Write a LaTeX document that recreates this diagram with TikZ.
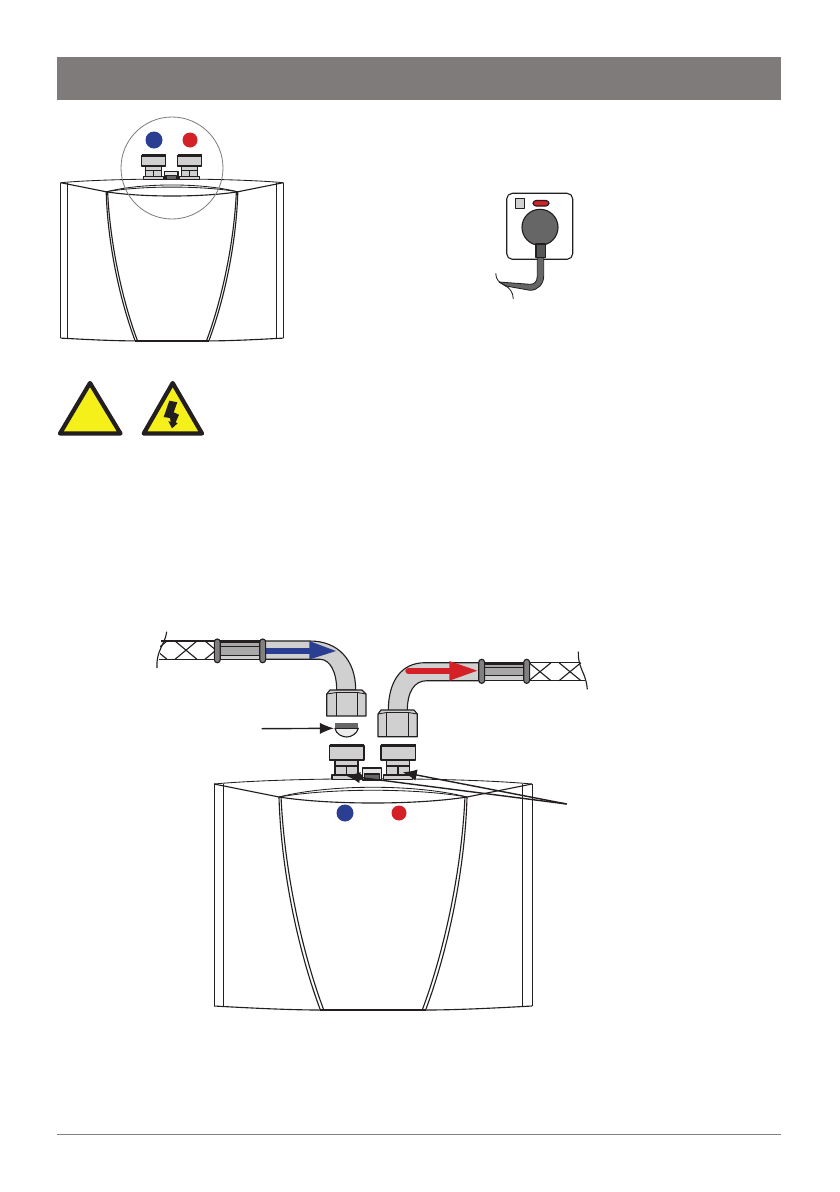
\documentclass[tikz,border=0pt]{standalone}
\usetikzlibrary{arrows.meta}
\definecolor{barGray}{RGB}{128,123,123}
\definecolor{pipeGray}{RGB}{208,208,208}
\definecolor{coreGray}{RGB}{168,168,168}
\definecolor{darkGray}{RGB}{102,102,102}
\definecolor{coldBlue}{RGB}{43,63,146}
\definecolor{hotRed}{RGB}{212,32,39}
\definecolor{warnYellow}{RGB}{245,240,25}
\definecolor{inkBlack}{RGB}{35,31,32}
\begin{document}
\begin{tikzpicture}[x=0.025cm,y=-0.025cm,line join=round]

	\tikzstyle{ink} = [draw=inkBlack,line width=0.8pt]
	\tikzstyle{thinink} = [draw=inkBlack,line width=0.6pt]
	\tikzstyle{part} = [ink,fill=pipeGray]
	\tikzstyle{collar} = [ink,fill=gray,rounded corners=2pt]
	\tikzstyle{warn} = [draw=inkBlack,fill=warnYellow,line width=3pt]
	\tikzstyle{pointer} = [draw=inkBlack,line width=1pt,-{Latex[length=10pt,width=8pt]}]

	\useasboundingbox (0,0) rectangle (840,1192);

	% header bar and footer line
	\fill[barGray] (57,57) rectangle (781,100);
	\draw[gray,line width=0.6pt] (57,1134) -- (781,1134);

	% heater, once large and once small
	\foreach \sc/\dx/\dy in {1/0/0,0.7/-89.1/-366.1} {
	\begin{scope}[shift={(\dx,\dy)},scale=\sc]
		\draw[thinink] (214,784) .. controls (290,777) and (456,777) .. (532,784);
		\draw[ink] (214,784) -- (279,797);
		\draw[ink] (532,784) -- (467,797);
		\draw[thinink] (279,797) .. controls (330,784) and (416,784) .. (467,797);
		\draw[thinink] (279,797) .. controls (330,788) and (416,788) .. (467,797);
		\draw[ink] (279,797) .. controls (330,805) and (416,805) .. (467,797);
		\foreach \o in {0,3.4} {
			\draw[ink] (279+0.6*\o,797) .. controls (281+\o,870) and (298+\o,950) .. (320+\o,1009);
			\draw[ink] (467-0.6*\o,797) .. controls (465-\o,870) and (448-\o,950) .. (426-\o,1009);
		}
		\foreach \x in {214,223,522,532}
			\draw[thinink] (\x,784) -- (\x,1006);
		\draw[ink] (214,1006) .. controls (250,1008) and (290,1010) .. (320,1010);
		\draw[ink] (532,1006) .. controls (496,1008) and (456,1010) .. (426,1010);
		\draw[inkBlack,line width=1.8pt] (320,1010) -- (426,1010);

		% the two connections
		\foreach \x in {0,51.5} {
			\draw[part] (335+\x,760) rectangle (358+\x,775);
			\draw[ink] (346.5+\x,766) -- (346.5+\x,775);
			\draw[ink] (335+\x,766) -- (358+\x,766);
			\draw[part] (332+\x,775) rectangle (361+\x,779.5);
			\draw[part,line width=1pt] (329.5+\x,745.5) rectangle (364+\x,760);
			\draw[inkBlack,line width=1.8pt] (329.5+\x,745.5) -- (364+\x,745.5);
		}
		\draw[ink,fill=white!90!black] (362.5,768) rectangle (381.5,780);
		\draw[ink,fill=darkGray] (364.5,774) rectangle (379.5,779.5);
	\end{scope}
	}

	% small view: marks and circle
	\fill[coldBlue] (154,140) circle [radius=8.5];
	\fill[hotRed] (190,140) circle [radius=7.5];
	\draw[gray,line width=0.6pt] (172,168) circle [radius=51];

	% large view: marks
	\fill[coldBlue] (345,813) circle [radius=8.5];
	\fill[hotRed] (399,813) circle [radius=7.5];

	% socket and plug
	\draw[ink,rounded corners=4pt,fill=white] (506.7,193.3) rectangle (572.7,259.3);
	\draw[thinink,fill=pipeGray] (515.3,198) rectangle (524,208.3);
	\draw[ink,fill=hotRed,rounded corners=2.2pt] (533,200.5) rectangle (549,206);
	\draw[ink,fill=darkGray] (540,227.3) circle [radius=18];
	\fill[darkGray,draw=inkBlack,line width=0.6pt] (537.3,257) -- (537.3,276) .. controls (537.3,282) and (534,284.5) .. (530,284.3)
		-- (499,282) -- (506,286) -- (530,290.3) .. controls (538,290.3) and (543.7,284) .. (543.7,276) -- (543.7,257) -- cycle;
	\draw[ink,fill=darkGray!85!black] (536,244) rectangle (545.7,257.3);
	\draw[thinink] (495.7,273.3) .. controls (496,280) and (499,282) .. (504,285) .. controls (510,288) and (513,292) .. (513.3,299);

	% warning signs
	\draw[warn] (90,383) -- (120.5,433.5) -- (60,433.5) -- cycle;
	\draw[warn] (172.7,383) -- (202,433.5) -- (143.7,433.5) -- cycle;
	\fill[inkBlack] (169.3,400.7) -- (177.3,402.3) -- (173.7,412.3) -- (179,414.7) -- (175.7,422.3) -- (177.7,423.3)
		-- (172,428.3) -- (168.3,421) -- (170.7,422) -- (170,418) -- (163.7,417) -- cycle;

	% cold water hose
	\begin{scope}
		\clip (160,635) rectangle (215,665);
		\foreach \x in {156,186,216} {
			\draw[ink] (\x-11,641) -- (\x+11,659.3);
			\draw[ink] (\x+11,641) -- (\x-11,659.3);
		}
	\end{scope}
	\draw[ink] (161,641) -- (215,641);
	\draw[ink] (158.5,659.3) -- (215,659.3);
	\draw[ink] (166.7,631.7) .. controls (165,645) and (156,650) .. (157,668);
	\draw[ink,fill=coreGray] (218,641) rectangle (262,659.3);
	\fill[pipeGray] (218,655) rectangle (262,659);
	\draw[inkBlack,line width=1.4pt] (218,642) -- (262,642);
	\draw[thinink] (218,646) -- (262,646);
	\draw[thinink] (218,655) -- (262,655);
	\draw[part] (265,641) -- (310,641) .. controls (338,641) and (355.7,660) .. (355.7,690)
		-- (336.7,690) .. controls (336.7,672) and (330,659.3) .. (320,659.3) -- (265,659.3);
	\fill[coldBlue] (265,648.2) rectangle (310,654.3);
	\fill[coldBlue] (309.3,641) -- (336,651) -- (309.3,659.5) -- cycle;
	\foreach \x in {217.3,262.7}
		\draw[collar] (\x-2.9,639) rectangle (\x+2.9,662.7);

	% nut and washer
	\draw[part] (326.7,716) -- (326.7,694) -- (330,690) -- (362,690) -- (366,694) -- (366,716) -- cycle;
	\draw[thinink] (326.7,694) -- (336.7,692.5) -- (357.3,692.5) -- (366,694);
	\foreach \x in {336.7,357.3}
		\draw[thinink] (\x,692.5) -- (\x,716);
	\draw[ink,fill=white!93!black] (335,728.3) .. controls (336,734) and (342,737) .. (346.7,737) .. controls (351,737) and (357,734) .. (358.3,728.3) -- cycle;
	\fill[darkGray] (335,723.3) rectangle (358.3,728.3);

	% hot water hose
	\begin{scope}
		\clip (529,655) rectangle (582,690);
		\foreach \x in {540,570} {
			\draw[ink] (\x-11,662.7) -- (\x+11,680.7);
			\draw[ink] (\x+11,662.7) -- (\x-11,680.7);
		}
	\end{scope}
	\draw[ink] (529,662.7) -- (579,662.7);
	\draw[ink] (529,680.7) -- (585,680.7);
	\draw[ink] (578.3,651.7) .. controls (578,662) and (581,668) .. (584,675) .. controls (586,680) and (587,685) .. (587.3,689.3);
	\draw[ink,fill=coreGray] (484,662.7) rectangle (524,680.7);
	\fill[pipeGray] (484,675) rectangle (524,680);
	\draw[inkBlack,line width=1.4pt] (484,664) -- (524,664);
	\draw[thinink] (484,667.7) -- (524,667.7);
	\draw[thinink] (484,675) -- (524,675);
	\draw[part] (480,662.7) -- (425,662.7) .. controls (402,662.7) and (388.3,680) .. (388.3,711)
		-- (407.3,711) .. controls (407.3,692) and (414,680.7) .. (427,680.7) -- (480,680.7);
	\draw[hotRed,line width=4.6pt,line cap=round] (408.5,671) -- (450,671);
	\fill[hotRed] (449.3,661) -- (477.3,670.7) -- (449.3,680.7) -- cycle;
	\foreach \x in {481.7,526.7}
		\draw[collar] (\x-2.9,659.3) rectangle (\x+2.9,683.3);

	\draw[part] (378,736.7) -- (378,714) -- (381,710) -- (414,710) -- (417.3,714) -- (417.3,736.7) -- cycle;
	\draw[thinink] (378,714) -- (386.7,712.5) -- (408.3,712.5) -- (417.3,714);
	\foreach \x in {386.7,408.3}
		\draw[thinink] (\x,712.5) -- (\x,736.7);

	% pointers
	\coordinate (washertail) at (261.7,728.7);
	\coordinate (washertip) at (334,728.3);
	\coordinate (fittingtail) at (566.7,804);
	\coordinate (coldtip) at (346,775.7);
	\coordinate (hottip) at (402.7,772.3);
	\draw[pointer] (washertail) -- (washertip);
	\draw[pointer] (fittingtail) -- (coldtip);
	\draw[pointer] (fittingtail) -- (hottip);

\end{tikzpicture}
\end{document}
